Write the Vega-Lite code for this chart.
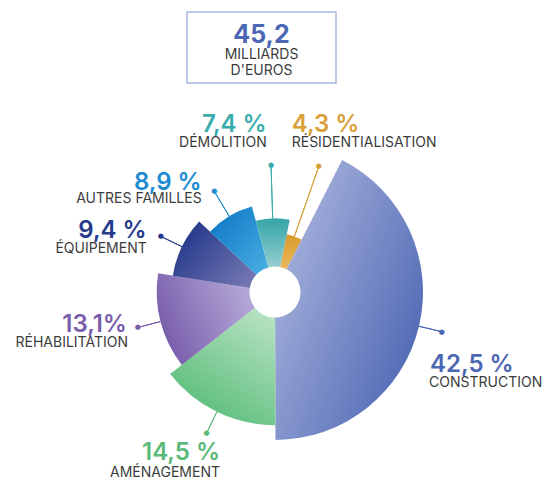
{
  "$schema": "https://vega.github.io/schema/vega-lite/v6.json",
  "autosize": {"type": "none"},
  "bounds": "flush",
  "padding": {"left": 187, "top": 12, "right": 359, "bottom": 467},
  "background": "white",
  "config": {"view": {"stroke": null}, "font": "Inter"},
  "spacing": 109,
  "vconcat": [
    {
      "width": 149,
      "height": 71,
      "view": {"stroke": "#a8b8e2", "strokeWidth": 1.5},
      "data": {"values": [{"big": "45,2", "l1": "MILLIARDS", "l2": "D'EUROS"}]},
      "layer": [
        {"mark": {"type": "text", "fontSize": 25, "fontWeight": 700, "color": "#4b67b3", "baseline": "alphabetic", "dy": -4.5}, "encoding": {"text": {"field": "big"}}},
        {"mark": {"type": "text", "fontSize": 14, "color": "#3c3c3c", "baseline": "alphabetic", "dy": 11.8}, "encoding": {"text": {"field": "l1"}}},
        {"mark": {"type": "text", "fontSize": 14, "color": "#3c3c3c", "baseline": "alphabetic", "dy": 27.5}, "encoding": {"text": {"field": "l2"}}}
      ]
    },
    {
      "width": 176,
      "height": 200,
      "data": {"values": [
        {"cat": "RÉSIDENTIALISATION", "pct": 4.3, "o": 1, "lab": "4,3 %"},
        {"cat": "CONSTRUCTION", "pct": 42.5, "o": 2, "lab": "42,5 %"},
        {"cat": "AMÉNAGEMENT", "pct": 14.5, "o": 3, "lab": "14,5 %"},
        {"cat": "RÉHABILITATION", "pct": 13.1, "o": 4, "lab": "13,1%"},
        {"cat": "ÉQUIPEMENT", "pct": 9.4, "o": 5, "lab": "9,4 %"},
        {"cat": "AUTRES FAMILLES", "pct": 8.9, "o": 6, "lab": "8,9 %"},
        {"cat": "DÉMOLITION", "pct": 7.4, "o": 7, "lab": "7,4 %"}
      ]},
      "transform": [
        {"window": [{"op": "rank", "as": "rank"}], "sort": [{"field": "pct", "order": "ascending"}]},
        {"stack": "pct", "sort": [{"field": "o", "order": "ascending"}], "as": ["t0", "t1"]}
      ],
      "encoding": {
        "detail": {"field": "cat"},
        "order": {"field": "o", "type": "quantitative"}
      },
      "layer": [
        {
          "mark": {"type": "arc", "innerRadius": 25.5},
          "encoding": {
            "theta": {"field": "t0", "type": "quantitative", "stack": null, "scale": {"domain": [0, 100.1], "range": [0.2007, 6.4839]}},
            "theta2": {"field": "t1"},
            "radius": {"field": "rank", "type": "quantitative", "scale": {"type": "linear", "zero": false, "domain": [1, 7], "range": [59, 148]}},
            "fill": {
              "condition": [
                {"test": "datum.cat==='CONSTRUCTION'", "value": {"gradient": "linear", "x1": 0, "y1": 0.15, "x2": 1, "y2": 0.85, "stops": [{"offset": 0, "color": "#aeb7df"}, {"offset": 1, "color": "#4863b1"}]}},
                {"test": "datum.cat==='AMÉNAGEMENT'", "value": {"gradient": "linear", "x1": 0.9, "y1": 0, "x2": 0.3, "y2": 1, "stops": [{"offset": 0, "color": "#b9e3c4"}, {"offset": 1, "color": "#56bb77"}]}},
                {"test": "datum.cat==='RÉHABILITATION'", "value": {"gradient": "linear", "x1": 1, "y1": 0.3, "x2": 0, "y2": 0.7, "stops": [{"offset": 0, "color": "#b6aad8"}, {"offset": 1, "color": "#7559a9"}]}},
                {"test": "datum.cat==='ÉQUIPEMENT'", "value": {"gradient": "linear", "x1": 0, "y1": 0.2, "x2": 1, "y2": 0.9, "stops": [{"offset": 0, "color": "#1f3488"}, {"offset": 1, "color": "#7779b3"}]}},
                {"test": "datum.cat==='AUTRES FAMILLES'", "value": {"gradient": "linear", "x1": 0, "y1": 0, "x2": 1, "y2": 1, "stops": [{"offset": 0, "color": "#0873c3"}, {"offset": 1, "color": "#4cb0e3"}]}},
                {"test": "datum.cat==='DÉMOLITION'", "value": {"gradient": "linear", "x1": 0.5, "y1": 0, "x2": 0.5, "y2": 1, "stops": [{"offset": 0, "color": "#34a5a7"}, {"offset": 1, "color": "#96cfd0"}]}},
                {"test": "datum.cat==='RÉSIDENTIALISATION'", "value": {"gradient": "linear", "x1": 0.5, "y1": 0, "x2": 0.5, "y2": 1, "stops": [{"offset": 0, "color": "#d89a2c"}, {"offset": 1, "color": "#e9b85c"}]}}
              ],
              "value": "#999999"
            }
          }
        },
        {
          "mark": {"type": "arc", "padAngle": 3.1416, "radiusOffset": 23.5, "filled": false, "strokeWidth": 1},
          "encoding": {
            "theta": {"field": "t0", "type": "quantitative", "stack": null}, "theta2": {"field": "t1"},
            "radius": {"field": "rank", "type": "quantitative"}, "radius2": {"field": "rank"},
            "stroke": {"condition": [
            {"test": "datum.cat==='CONSTRUCTION'", "value": "#4b67b3"},
            {"test": "datum.cat==='AMÉNAGEMENT'", "value": "#5cb97a"},
            {"test": "datum.cat==='RÉHABILITATION'", "value": "#7b5eab"},
            {"test": "datum.cat==='ÉQUIPEMENT'", "value": "#263a8c"}], "value": null}}
        },
        {
          "mark": {"type": "arc", "padAngle": 3.1416, "radiusOffset": 29, "filled": false, "strokeWidth": 1},
          "encoding": {
            "theta": {"field": "t0", "type": "quantitative", "stack": null}, "theta2": {"field": "t1"},
            "radius": {"field": "rank", "type": "quantitative"}, "radius2": {"field": "rank"},
            "stroke": {"condition": {"test": "datum.cat==='AUTRES FAMILLES'", "value": "#1d8bd1"}, "value": null}}
        },
        {
          "mark": {"type": "arc", "padAngle": 3.1416, "radiusOffset": 53, "filled": false, "strokeWidth": 1},
          "encoding": {
            "theta": {"field": "t0", "type": "quantitative", "stack": null}, "theta2": {"field": "t1"},
            "radius": {"field": "rank", "type": "quantitative"}, "radius2": {"field": "rank"},
            "stroke": {"condition": {"test": "datum.cat==='DÉMOLITION'", "value": "#39adad"}, "value": null}}
        },
        {
          "mark": {"type": "arc", "padAngle": 3.1416, "radiusOffset": 74, "filled": false, "strokeWidth": 1},
          "encoding": {
            "theta": {"field": "t0", "type": "quantitative", "stack": null}, "theta2": {"field": "t1"},
            "radius": {"field": "rank", "type": "quantitative"}, "radius2": {"field": "rank"},
            "stroke": {"condition": {"test": "datum.cat==='RÉSIDENTIALISATION'", "value": "#d9a03a"}, "value": null}}
        },

        {"mark": {"type": "text", "radiusOffset": 23.5, "fontSize": 7, "baseline": "middle", "align": "center", "font": "DejaVu Sans", "color": "#4b67b3"},
         "encoding": {"theta": {"field": "pct", "type": "quantitative", "stack": true}, "radius": {"datum": 7, "type": "quantitative"},
           "text": {"condition": {"test": "datum.cat==='CONSTRUCTION'", "value": "●"}, "value": ""}}},
        {"mark": {"type": "text", "radiusOffset": 23.5, "fontSize": 7, "baseline": "middle", "align": "center", "font": "DejaVu Sans", "color": "#5cb97a"},
         "encoding": {"theta": {"field": "pct", "type": "quantitative", "stack": true}, "radius": {"datum": 6, "type": "quantitative"},
           "text": {"condition": {"test": "datum.cat==='AMÉNAGEMENT'", "value": "●"}, "value": ""}}},
        {"mark": {"type": "text", "radiusOffset": 23.5, "fontSize": 7, "baseline": "middle", "align": "center", "font": "DejaVu Sans", "color": "#7b5eab"},
         "encoding": {"theta": {"field": "pct", "type": "quantitative", "stack": true}, "radius": {"datum": 5, "type": "quantitative"},
           "text": {"condition": {"test": "datum.cat==='RÉHABILITATION'", "value": "●"}, "value": ""}}},
        {"mark": {"type": "text", "radiusOffset": 23.5, "fontSize": 7, "baseline": "middle", "align": "center", "font": "DejaVu Sans", "color": "#263a8c"},
         "encoding": {"theta": {"field": "pct", "type": "quantitative", "stack": true}, "radius": {"datum": 4, "type": "quantitative"},
           "text": {"condition": {"test": "datum.cat==='ÉQUIPEMENT'", "value": "●"}, "value": ""}}},
        {"mark": {"type": "text", "radiusOffset": 29, "fontSize": 7, "baseline": "middle", "align": "center", "font": "DejaVu Sans", "color": "#1d8bd1"},
         "encoding": {"theta": {"field": "pct", "type": "quantitative", "stack": true}, "radius": {"datum": 3, "type": "quantitative"},
           "text": {"condition": {"test": "datum.cat==='AUTRES FAMILLES'", "value": "●"}, "value": ""}}},
        {"mark": {"type": "text", "radiusOffset": 53, "fontSize": 7, "baseline": "middle", "align": "center", "font": "DejaVu Sans", "color": "#39adad"},
         "encoding": {"theta": {"field": "pct", "type": "quantitative", "stack": true}, "radius": {"datum": 2, "type": "quantitative"},
           "text": {"condition": {"test": "datum.cat==='DÉMOLITION'", "value": "●"}, "value": ""}}},
        {"mark": {"type": "text", "radiusOffset": 74, "fontSize": 7, "baseline": "middle", "align": "center", "font": "DejaVu Sans", "color": "#d9a03a"},
         "encoding": {"theta": {"field": "pct", "type": "quantitative", "stack": true}, "radius": {"datum": 1, "type": "quantitative"},
           "text": {"condition": {"test": "datum.cat==='RÉSIDENTIALISATION'", "value": "●"}, "value": ""}}},

        {"mark": {"type": "text", "radiusOffset": 23.5, "dx": -11.8, "dy": 40.3, "align": "left", "baseline": "alphabetic", "fontSize": 24, "fontWeight": 600, "color": "#4b67b3"},
         "encoding": {"theta": {"field": "pct", "type": "quantitative", "stack": true}, "radius": {"datum": 7, "type": "quantitative"},
           "text": {"condition": {"test": "datum.cat==='CONSTRUCTION'", "field": "lab"}, "value": ""}}},
        {"mark": {"type": "text", "radiusOffset": 23.5, "dx": -12.8, "dy": 55.3, "align": "left", "baseline": "alphabetic", "fontSize": 14, "color": "#3c3c3c"},
         "encoding": {"theta": {"field": "pct", "type": "quantitative", "stack": true}, "radius": {"datum": 7, "type": "quantitative"},
           "text": {"condition": {"test": "datum.cat==='CONSTRUCTION'", "field": "cat"}, "value": ""}}},

        {"mark": {"type": "text", "radiusOffset": 23.5, "dx": 13.4, "dy": 27, "align": "right", "baseline": "alphabetic", "fontSize": 24, "fontWeight": 600, "color": "#5cb97a"},
         "encoding": {"theta": {"field": "pct", "type": "quantitative", "stack": true}, "radius": {"datum": 6, "type": "quantitative"},
           "text": {"condition": {"test": "datum.cat==='AMÉNAGEMENT'", "field": "lab"}, "value": ""}}},
        {"mark": {"type": "text", "radiusOffset": 23.5, "dx": 13.4, "dy": 44, "align": "right", "baseline": "alphabetic", "fontSize": 14, "color": "#3c3c3c"},
         "encoding": {"theta": {"field": "pct", "type": "quantitative", "stack": true}, "radius": {"datum": 6, "type": "quantitative"},
           "text": {"condition": {"test": "datum.cat==='AMÉNAGEMENT'", "field": "cat"}, "value": ""}}},

        {"mark": {"type": "text", "radiusOffset": 23.5, "dx": -10.7, "dy": 4.5, "align": "right", "baseline": "alphabetic", "fontSize": 24, "fontWeight": 600, "color": "#7b5eab"},
         "encoding": {"theta": {"field": "pct", "type": "quantitative", "stack": true}, "radius": {"datum": 5, "type": "quantitative"},
           "text": {"condition": {"test": "datum.cat==='RÉHABILITATION'", "field": "lab"}, "value": ""}}},
        {"mark": {"type": "text", "radiusOffset": 23.5, "dx": -9.7, "dy": 19.5, "align": "right", "baseline": "alphabetic", "fontSize": 14, "color": "#3c3c3c"},
         "encoding": {"theta": {"field": "pct", "type": "quantitative", "stack": true}, "radius": {"datum": 5, "type": "quantitative"},
           "text": {"condition": {"test": "datum.cat==='RÉHABILITATION'", "field": "cat"}, "value": ""}}},

        {"mark": {"type": "text", "radiusOffset": 23.5, "dx": -14.1, "dy": 1.9, "align": "right", "baseline": "alphabetic", "fontSize": 24, "fontWeight": 600, "color": "#263a8c"},
         "encoding": {"theta": {"field": "pct", "type": "quantitative", "stack": true}, "radius": {"datum": 4, "type": "quantitative"},
           "text": {"condition": {"test": "datum.cat==='ÉQUIPEMENT'", "field": "lab"}, "value": ""}}},
        {"mark": {"type": "text", "radiusOffset": 23.5, "dx": -14.1, "dy": 16.6, "align": "right", "baseline": "alphabetic", "fontSize": 14, "color": "#3c3c3c"},
         "encoding": {"theta": {"field": "pct", "type": "quantitative", "stack": true}, "radius": {"datum": 4, "type": "quantitative"},
           "text": {"condition": {"test": "datum.cat==='ÉQUIPEMENT'", "field": "cat"}, "value": ""}}},

        {"mark": {"type": "text", "radiusOffset": 29, "dx": -12.5, "dy": -1.2, "align": "right", "baseline": "alphabetic", "fontSize": 24, "fontWeight": 600, "color": "#1d8bd1"},
         "encoding": {"theta": {"field": "pct", "type": "quantitative", "stack": true}, "radius": {"datum": 3, "type": "quantitative"},
           "text": {"condition": {"test": "datum.cat==='AUTRES FAMILLES'", "field": "lab"}, "value": ""}}},
        {"mark": {"type": "text", "radiusOffset": 29, "dx": -12.5, "dy": 11.8, "align": "right", "baseline": "alphabetic", "fontSize": 14, "color": "#3c3c3c"},
         "encoding": {"theta": {"field": "pct", "type": "quantitative", "stack": true}, "radius": {"datum": 3, "type": "quantitative"},
           "text": {"condition": {"test": "datum.cat==='AUTRES FAMILLES'", "field": "cat"}, "value": ""}}},

        {"mark": {"type": "text", "radiusOffset": 53, "dx": -4.3, "dy": -33.3, "align": "right", "baseline": "alphabetic", "fontSize": 24, "fontWeight": 600, "color": "#39adad"},
         "encoding": {"theta": {"field": "pct", "type": "quantitative", "stack": true}, "radius": {"datum": 2, "type": "quantitative"},
           "text": {"condition": {"test": "datum.cat==='DÉMOLITION'", "field": "lab"}, "value": ""}}},
        {"mark": {"type": "text", "radiusOffset": 53, "dx": -4.3, "dy": -18.3, "align": "right", "baseline": "alphabetic", "fontSize": 14, "color": "#3c3c3c"},
         "encoding": {"theta": {"field": "pct", "type": "quantitative", "stack": true}, "radius": {"datum": 2, "type": "quantitative"},
           "text": {"condition": {"test": "datum.cat==='DÉMOLITION'", "field": "cat"}, "value": ""}}},

        {"mark": {"type": "text", "radiusOffset": 74, "dx": -27.1, "dy": -34.4, "align": "left", "baseline": "alphabetic", "fontSize": 24, "fontWeight": 600, "color": "#d9a03a"},
         "encoding": {"theta": {"field": "pct", "type": "quantitative", "stack": true}, "radius": {"datum": 1, "type": "quantitative"},
           "text": {"condition": {"test": "datum.cat==='RÉSIDENTIALISATION'", "field": "lab"}, "value": ""}}},
        {"mark": {"type": "text", "radiusOffset": 74, "dx": -27.1, "dy": -19.4, "align": "left", "baseline": "alphabetic", "fontSize": 14, "color": "#3c3c3c"},
         "encoding": {"theta": {"field": "pct", "type": "quantitative", "stack": true}, "radius": {"datum": 1, "type": "quantitative"},
           "text": {"condition": {"test": "datum.cat==='RÉSIDENTIALISATION'", "field": "cat"}, "value": ""}}}
      ]
    }
  ]
}
